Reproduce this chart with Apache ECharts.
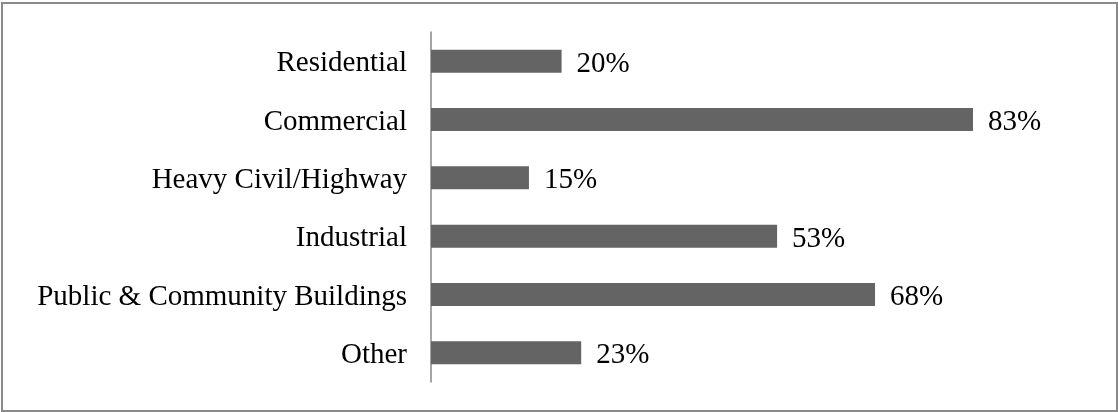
<!DOCTYPE html>
<html>
<head>
<meta charset="utf-8">
<script src="https://cdn.jsdelivr.net/npm/echarts@6/dist/echarts.min.js"></script>
<style>
  html, body { margin: 0; padding: 0; background: #fff; }
  #chart { width: 1118px; height: 412px; }
</style>
</head>
<body>
<div id="chart"></div>
<script>
// Share of respondents by market sector (percent)
const categories = [
  'Residential',
  'Commercial',
  'Heavy Civil/Highway',
  'Industrial',
  'Public & Community Buildings',
  'Other'
];
const shares = [20, 83, 15, 53, 68, 23];

const serif = '"Liberation Serif", "Times New Roman", serif';

const chart = echarts.init(document.getElementById('chart'));
chart.setOption({
  animation: false,
  backgroundColor: '#fff',
  graphic: [{
    type: 'rect',
    shape: { x: 2, y: 3, width: 1115, height: 408 },
    style: { fill: 'none', stroke: '#8a8a8a', lineWidth: 2 },
    silent: true
  }],
  grid: { left: 431, right: 34, top: 32, bottom: 30, containLabel: false },
  xAxis: {
    type: 'value',
    min: 0,
    max: 100,
    show: false
  },
  yAxis: {
    type: 'category',
    data: categories,
    inverse: true,
    axisLine: { show: true, lineStyle: { color: '#878787', width: 1.5 } },
    axisTick: { show: false },
    axisLabel: {
      margin: 24,
      color: '#000',
      fontFamily: serif,
      fontSize: 29,
      // nudge the category names slightly below the bar centres
      verticalAlign: 'top',
      lineHeight: 5
    }
  },
  series: [{
    type: 'bar',
    data: shares,
    barWidth: 23,
    itemStyle: { color: '#646464' },
    label: {
      show: true,
      position: 'right',
      distance: 15,
      offset: [0, 3],
      formatter: '{c}%',
      color: '#000',
      fontFamily: serif,
      fontSize: 29
    }
  }]
});
</script>
</body>
</html>
